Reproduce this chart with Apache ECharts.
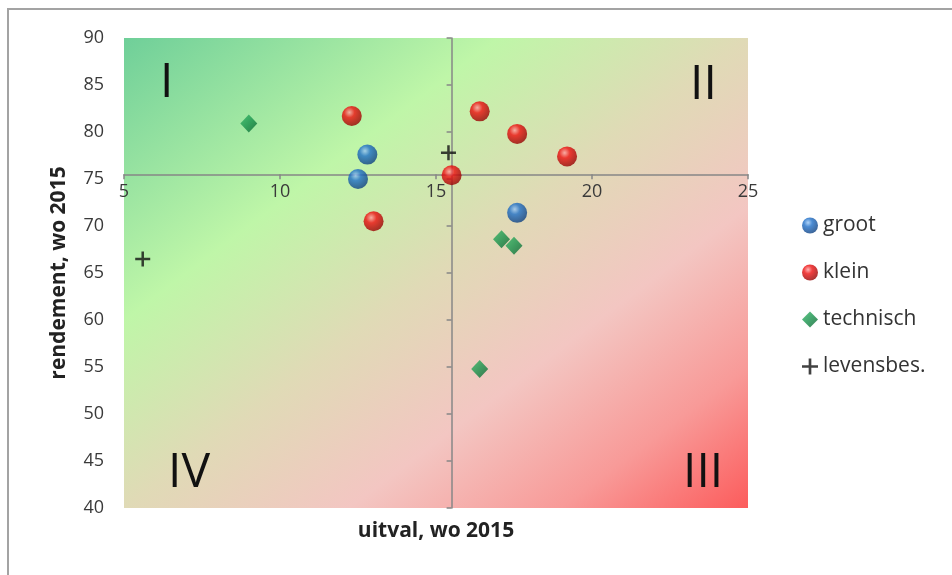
<!DOCTYPE html>
<html>
<head>
<meta charset="utf-8">
<script src="https://cdn.jsdelivr.net/npm/echarts@6/dist/echarts.min.js"></script>
<style>
html,body{margin:0;padding:0;background:#fff;}
#chart{width:952px;height:575px;}
</style>
</head>
<body>
<div id="chart"></div>
<script>
// ---- data ----
var seriesNames = ['groot', 'klein', 'technisch', 'levensbes.'];
var grootX = [12.8, 12.5, 17.6];
var grootY = [77.6, 75.0, 71.4];
var kleinX = [12.3, 13.0, 15.5, 16.4, 17.6, 19.2];
var kleinY = [81.7, 70.5, 75.4, 82.2, 79.8, 77.4];
var technischX = [9.0, 17.1, 17.5, 16.4];
var technischY = [80.9, 68.6, 67.9, 54.8];
var levensX = [5.6, 15.4];
var levensY = [66.5, 77.8];
var xTicks = [5, 10, 15, 20, 25];
var yTicks = [40, 45, 50, 55, 60, 65, 70, 75, 80, 85, 90];
var xCross = 15.5;   // where the vertical axis crosses
var yCross = 75.5;   // where the horizontal axis crosses
var quadrantLabels = ['I', 'II', 'III', 'IV'];
var xTitle = 'uitval, wo 2015';
var yTitle = 'rendement, wo 2015';

function pairs(xs, ys) { return xs.map(function (x, i) { return [x, ys[i]]; }); }

var FONT = '"Open Sans", Lato, sans-serif';
var grid = { left: 124, right: 204, top: 38, bottom: 67 };
var W = 952 - grid.left - grid.right, H = 575 - grid.top - grid.bottom;
// gradient whose iso-lines run parallel to the anti-diagonal (TL -> BR)
var gx2 = 2 * H * H / (W * W + H * H), gy2 = 2 * W * W / (W * W + H * H);

function ball(light, mid, dark) {
  return { type: 'radial', x: 0.38, y: 0.32, r: 0.75,
    colorStops: [{ offset: 0, color: light }, { offset: 0.35, color: mid }, { offset: 1, color: dark }] };
}
var plusPath = 'path://M5,0H7V5H12V7H7V12H5V7H0V5H5Z';

var axisLineColor = '#878787';
var labelStyle = { color: '#3a3a3a', fontSize: 18, fontFamily: FONT };

var chart = echarts.init(document.getElementById('chart'), null, { renderer: 'canvas' });
var option = {
  animation: false,
  backgroundColor: '#ffffff',
  grid: Object.assign({ show: true, borderWidth: 0, outerBoundsMode: 'none',
    backgroundColor: { type: 'linear', x: 0, y: 0, x2: gx2, y2: gy2,
      colorStops: [
        { offset: 0, color: '#6fcf99' },
        { offset: 0.3, color: '#bff6a8' },
        { offset: 0.5, color: '#e0dab6' },
        { offset: 0.68, color: '#f3c6c2' },
        { offset: 0.85, color: '#f89a98' },
        { offset: 1, color: '#fc5c5c' }
      ] } }, grid),
  xAxis: [{
    type: 'value', min: xTicks[0], max: xTicks[xTicks.length - 1], interval: 5, position: 'bottom',
    axisLine: { show: true, onZero: false, lineStyle: { color: axisLineColor, width: 1.5 } },
    axisTick: { show: true, inside: false, length: 5, lineStyle: { color: axisLineColor, width: 1.5 } },
    axisLabel: Object.assign({ margin: 9 }, labelStyle),
    splitLine: { show: false }
  }, {
    type: 'value', min: xTicks[0], max: xTicks[xTicks.length - 1], interval: 5, position: 'bottom',
    axisLine: { show: false }, axisTick: { show: false }, axisLabel: { show: false }, splitLine: { show: false },
    name: xTitle, nameLocation: 'middle', nameGap: 13,
    nameTextStyle: { color: '#222222', fontSize: 21, fontWeight: 'bold', fontFamily: FONT, verticalAlign: 'top' }
  }],
  yAxis: [{
    type: 'value', min: yTicks[0], max: yTicks[yTicks.length - 1], interval: 5, position: 'left',
    axisLine: { show: false }, axisTick: { show: false },
    axisLabel: Object.assign({ margin: 20 }, labelStyle),
    splitLine: { show: false },
    name: yTitle, nameLocation: 'middle', nameGap: 54, nameRotate: 90,
    nameTextStyle: { color: '#222222', fontSize: 21, fontWeight: 'bold', fontFamily: FONT }
  }, {
    type: 'value', min: yTicks[0], max: yTicks[yTicks.length - 1], interval: 5, position: 'left',
    axisLine: { show: true, onZero: false, lineStyle: { color: axisLineColor, width: 1.5 } },
    axisTick: { show: true, inside: false, length: 5, lineStyle: { color: axisLineColor, width: 1.5 } },
    axisLabel: { show: false }, splitLine: { show: false }
  }],
  legend: {
    orient: 'vertical', left: 797, top: 210, itemGap: 26, itemWidth: 16, itemHeight: 16,
    data: seriesNames,
    textStyle: { color: '#333333', fontSize: 21, fontFamily: FONT, padding: [0, 0, 0, 0] }
  },
  series: [{
    name: seriesNames[0], type: 'scatter', data: pairs(grootX, grootY), symbol: 'circle', symbolSize: 20,
    itemStyle: { color: ball('#9cc8f5', '#1f6fc8', '#0b3a78') }, z: 5
  }, {
    name: seriesNames[1], type: 'scatter', data: pairs(kleinX, kleinY), symbol: 'circle', symbolSize: 20,
    itemStyle: { color: ball('#ffa0a0', '#ee0f0f', '#8a0000') }, z: 5
  }, {
    name: seriesNames[2], type: 'scatter', data: pairs(technischX, technischY), symbol: 'diamond', symbolSize: [17, 18],
    itemStyle: { color: { type: 'linear', x: 0, y: 0, x2: 1, y2: 1,
      colorStops: [{ offset: 0, color: '#36b868' }, { offset: 0.5, color: '#16904a' }, { offset: 1, color: '#0a5f2e' }] } }, z: 5
  }, {
    name: seriesNames[3], type: 'scatter', data: pairs(levensX, levensY), symbol: plusPath, symbolSize: 15,
    itemStyle: { color: '#111111' }, z: 6
  }],
  graphic: [
    { type: 'rect', z: -10, silent: true, shape: { x: 8, y: 9, width: 1000, height: 700 },
      style: { fill: null, stroke: '#a3a3a3', lineWidth: 2 } },
    { type: 'text', left: 160, top: 59, z: 10, style: { text: quadrantLabels[0], font: '400 48px ' + FONT, fill: '#111' } },
    { type: 'text', left: 690, top: 61, z: 10, style: { text: quadrantLabels[1], font: '400 48px ' + FONT, fill: '#111' } },
    { type: 'text', left: 683, top: 449, z: 10, style: { text: quadrantLabels[2], font: '400 48px ' + FONT, fill: '#111' } },
    { type: 'text', left: 168, top: 449, z: 10, style: { text: quadrantLabels[3], font: '400 48px ' + FONT, fill: '#111' } }
  ]
};
chart.setOption(option);

// put the two crossing axes at xCross / yCross using the library's own scales
var pyCross = chart.convertToPixel({ yAxisIndex: 0 }, yCross);
var pxCross = chart.convertToPixel({ xAxisIndex: 0 }, xCross);
var gridBottomPx = 575 - grid.bottom;
chart.setOption({
  xAxis: [{ offset: pyCross - gridBottomPx }, {}],
  yAxis: [{}, { offset: grid.left - pxCross }]
});
</script>
</body>
</html>
